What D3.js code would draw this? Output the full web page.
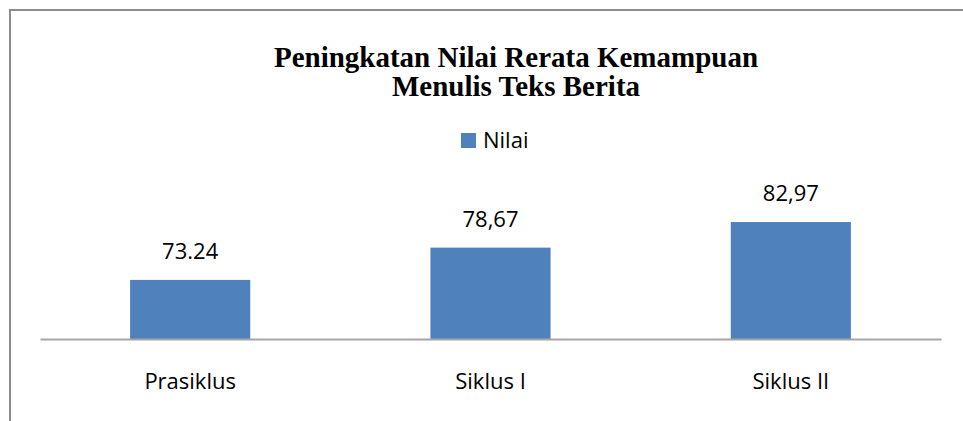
<!DOCTYPE html>
<html>
<head>
<meta charset="utf-8">
<script src="https://cdn.jsdelivr.net/npm/d3@7"></script>
<style>
    body { margin: 0; background: #fff; }
    svg { display: block; }
</style>
</head>
<body>
<div id="chart"></div>
<script>
// data
let categories = ["Prasiklus", "Siklus I", "Siklus II"];
let values = [73.24, 78.67, 82.97];
let valueLabels = ["73.24", "78,67", "82,97"];
let seriesName = "Nilai";
let titleLines = ["Peningkatan Nilai Rerata Kemampuan", "Menulis Teks Berita"];

let width = 963, height = 421;
let barColor = "#4f81bd";
let labelFont = "'Open Sans', 'Noto Sans', sans-serif";

let svg = d3.select("#chart").append("svg")
    .attr("width", width)
    .attr("height", height);

// chart frame (only left and top edges visible in the crop)
svg.append("path")
    .attr("d", "M10," + height + "V10H" + width)
    .attr("fill", "none")
    .attr("stroke", "#8c8c8c")
    .attr("stroke-width", 2);

// title
svg.append("text")
    .attr("text-anchor", "middle")
    .attr("font-family", "'Liberation Serif', 'Times New Roman', serif")
    .attr("font-weight", "bold")
    .attr("font-size", 29)
    .selectAll("tspan")
    .data(titleLines)
    .join("tspan")
    .attr("x", 516)
    .attr("y", (d, i) => 67 + i * 29)
    .text(d => d);

// legend
let legend = svg.append("g").attr("transform", "translate(461,133)");
legend.append("rect")
    .attr("width", 15)
    .attr("height", 15)
    .attr("fill", barColor);
legend.append("text")
    .attr("x", 22)
    .attr("y", 15)
    .attr("font-family", labelFont)
    .attr("font-size", 22)
    .attr("fill", "#000")
    .text(seriesName);

// scales
let x = d3.scaleBand()
    .domain(categories)
    .range([40, 941])
    .paddingInner(0.6)
    .paddingOuter(0.3);

let y = d3.scaleLinear()
    .domain([63.3, 85])
    .range([339, 210]);

// bars
svg.selectAll(".bar")
    .data(values)
    .join("rect")
    .attr("class", "bar")
    .attr("x", (d, i) => x(categories[i]))
    .attr("y", d => y(d))
    .attr("width", x.bandwidth())
    .attr("height", d => y.range()[0] - y(d))
    .attr("fill", barColor);

// value labels
svg.selectAll(".value")
    .data(values)
    .join("text")
    .attr("class", "value")
    .attr("x", (d, i) => x(categories[i]) + x.bandwidth() / 2)
    .attr("y", d => y(d) - 21)
    .attr("text-anchor", "middle")
    .attr("font-family", labelFont)
    .attr("font-size", 22)
    .attr("fill", "#000")
    .text((d, i) => valueLabels[i]);

// category axis
let xAxis = svg.append("g")
    .attr("transform", "translate(0,339)")
    .call(d3.axisBottom(x).tickSize(0).tickPadding(34));

xAxis.select(".domain")
    .attr("stroke", "#a6a6a6")
    .attr("stroke-width", 2);

xAxis.selectAll("text")
    .attr("font-family", labelFont)
    .attr("font-size", 22)
    .attr("fill", "#000");
</script>
</body>
</html>
